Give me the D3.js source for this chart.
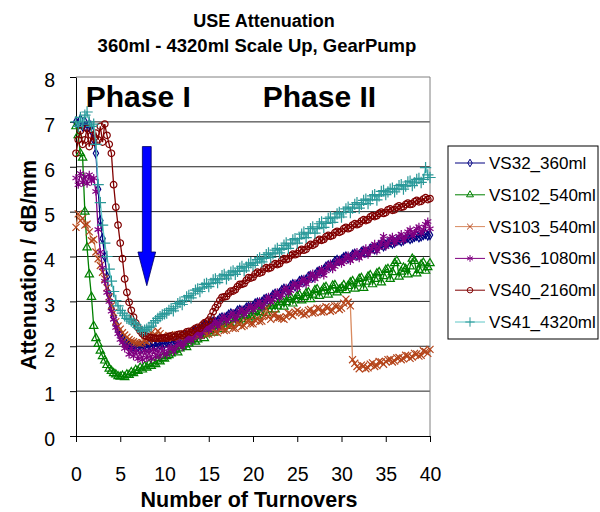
<!DOCTYPE html>
<html>
<head>
<meta charset="utf-8">
<script src="https://cdn.jsdelivr.net/npm/d3@7"></script>
<style>
  body { margin: 0; background: #fff; }
  text { font-family: Arial, "Liberation Sans", sans-serif; }
</style>
</head>
<body>
<svg id="chart" width="600" height="512"></svg>
<script>
// turnovers (x) shared by all series, every quarter turnover
var turnovers = [0,0.25,0.5,0.75,1,1.25,1.5,1.75,2,2.25,2.5,2.75,3,3.25,3.5,3.75,4,4.25,4.5,4.75,
  5,5.25,5.5,5.75,6,6.25,6.5,6.75,7,7.25,7.5,7.75,8,8.25,8.5,8.75,9,9.25,9.5,9.75,
  10,10.25,10.5,10.75,11,11.25,11.5,11.75,12,12.25,12.5,12.75,13,13.25,13.5,13.75,14,14.25,14.5,14.75,
  15,15.25,15.5,15.75,16,16.25,16.5,16.75,17,17.25,17.5,17.75,18,18.25,18.5,18.75,19,19.25,19.5,19.75,
  20,20.25,20.5,20.75,21,21.25,21.5,21.75,22,22.25,22.5,22.75,23,23.25,23.5,23.75,24,24.25,24.5,24.75,
  25,25.25,25.5,25.75,26,26.25,26.5,26.75,27,27.25,27.5,27.75,28,28.25,28.5,28.75,29,29.25,29.5,29.75,
  30,30.25,30.5,30.75,31,31.25,31.5,31.75,32,32.25,32.5,32.75,33,33.25,33.5,33.75,34,34.25,34.5,34.75,
  35,35.25,35.5,35.75,36,36.25,36.5,36.75,37,37.25,37.5,37.75,38,38.25,38.5,38.75,39,39.25,39.5,39.75,40];

// attenuation, dB/mm
var vs32 = [7.0,6.95,7.05,6.9,7.0,6.85,6.95,6.8,6.6,6.3,5.5,4.8,4.4,4.0,3.55,3.15,2.85,2.65,2.5,2.35,2.25,2.18,2.1,2.05,2.02,1.97,2.0,1.95,1.99,2.02,1.96,2.01,1.97,2.03,1.99,2.04,2.0,2.06,2.02,2.07,2.05,
  2.09,2.1,2.07,2.08,2.13,2.15,2.12,2.16,2.22,2.24,2.21,2.26,2.32,2.35,2.32,2.36,2.43,2.47,2.44,2.48,
  2.53,2.55,2.53,2.56,2.62,2.64,2.61,2.65,2.7,2.73,2.69,2.72,2.79,2.81,2.77,2.8,2.86,2.88,2.85,2.88,
  2.95,2.97,2.94,2.98,3.04,3.06,3.03,3.07,3.14,3.17,3.13,3.18,3.25,3.28,3.23,3.27,3.35,3.38,3.34,3.38,
  3.45,3.47,3.44,3.48,3.55,3.57,3.54,3.58,3.65,3.67,3.66,3.7,3.77,3.8,3.78,3.82,3.89,3.92,3.9,3.93,
  3.98,4.0,3.96,3.98,4.04,4.06,4.02,4.04,4.1,4.12,4.09,4.11,4.17,4.19,4.16,4.18,4.25,4.27,4.23,4.26,
  4.3,4.32,4.29,4.31,4.35,4.37,4.34,4.36,4.4,4.42,4.39,4.41,4.44,4.46,4.43,4.45,4.48,4.5,4.47,4.48];

var vs102 = [6.9,6.7,6.3,6.2,5.0,4.2,3.6,3.1,2.45,2.18,2.05,1.9,1.78,1.68,1.58,1.5,1.45,1.4,1.37,1.33,1.32,1.34,1.31,1.37,1.36,1.42,1.4,1.47,1.45,1.52,1.48,1.55,1.52,1.6,1.56,1.63,1.6,1.68,1.66,1.74,1.72,
  1.78,1.8,1.84,1.9,1.92,1.86,1.95,2.0,2.04,1.98,2.06,2.12,2.16,2.1,2.15,2.24,2.26,2.18,2.28,2.34,
  2.36,2.3,2.38,2.44,2.46,2.38,2.45,2.5,2.54,2.45,2.52,2.6,2.62,2.52,2.6,2.68,2.7,2.6,2.66,2.75,
  2.78,2.68,2.76,2.86,2.88,2.74,2.82,2.9,2.93,2.82,2.9,2.98,3.02,2.88,2.98,3.08,3.1,2.95,3.04,3.12,
  3.14,3.02,3.1,3.18,3.2,3.05,3.15,3.25,3.27,3.12,3.22,3.3,3.32,3.15,3.25,3.35,3.36,3.2,3.26,3.3,
  3.36,3.25,3.34,3.42,3.45,3.28,3.4,3.5,3.52,3.3,3.44,3.55,3.58,3.38,3.5,3.62,3.65,3.42,3.56,3.7,
  3.72,3.5,3.65,3.85,3.9,3.55,3.66,3.75,3.72,3.6,3.78,3.95,3.9,3.62,3.7,3.82,3.86,3.68,3.76,3.85];

var vs103 = [4.65,4.95,4.8,4.85,4.7,4.72,4.55,4.35,4.38,4.1,3.95,3.8,3.65,3.5,3.3,3.1,2.9,2.75,2.55,2.45,2.38,2.3,2.25,2.2,2.15,2.12,2.1,2.08,2.07,2.06,2.08,2.12,2.1,2.14,2.3,2.2,2.25,2.34,2.28,2.22,2.2,
  2.18,2.24,2.22,2.18,2.26,2.25,2.2,2.2,2.28,2.26,2.22,2.21,2.3,2.28,2.24,2.24,2.33,2.32,2.26,2.27,
  2.34,2.38,2.32,2.3,2.4,2.42,2.35,2.36,2.45,2.47,2.4,2.4,2.52,2.5,2.44,2.46,2.55,2.56,2.5,2.5,
  2.58,2.62,2.55,2.56,2.68,2.84,2.66,2.6,2.7,2.72,2.63,2.64,2.62,2.6,2.66,2.74,2.72,2.68,2.76,2.8,
  2.76,2.74,2.7,2.72,2.8,2.82,2.74,2.75,2.85,2.84,2.76,2.77,2.88,2.86,2.78,2.8,2.9,2.9,2.82,2.85,
  2.96,3.05,2.98,2.9,1.7,1.62,1.55,1.5,1.58,1.56,1.5,1.52,1.6,1.63,1.55,1.57,1.66,1.65,1.6,1.66,
  1.7,1.71,1.65,1.67,1.74,1.75,1.7,1.72,1.8,1.79,1.73,1.76,1.84,1.83,1.78,1.8,1.9,1.88,1.84,1.93];

var vs36 = [5.75,5.6,5.85,5.65,5.78,5.62,5.82,5.68,5.75,5.45,4.6,4.1,3.75,3.45,3.2,3.0,2.78,2.6,2.42,2.28,2.15,2.08,1.95,2.0,1.82,1.95,1.78,1.9,1.72,1.86,1.7,1.9,1.74,1.88,1.72,1.92,1.76,1.9,1.78,1.95,1.85,
  1.82,1.95,1.98,1.88,1.96,2.05,2.08,1.98,2.06,2.15,2.2,2.12,2.18,2.28,2.32,2.22,2.3,2.4,2.44,2.36,
  2.42,2.5,2.56,2.44,2.52,2.62,2.66,2.55,2.6,2.7,2.74,2.6,2.68,2.78,2.82,2.7,2.76,2.86,2.9,2.8,
  2.86,2.95,3.0,2.86,2.94,3.05,3.1,2.98,3.04,3.16,3.2,3.08,3.14,3.26,3.3,3.18,3.24,3.36,3.4,3.3,
  3.36,3.46,3.5,3.38,3.46,3.58,3.62,3.5,3.56,3.66,3.72,3.58,3.68,3.8,3.84,3.72,3.78,3.88,3.92,3.84,
  3.88,3.98,4.02,3.9,3.96,4.06,4.1,3.96,4.02,4.12,4.18,4.04,4.12,4.22,4.28,4.12,4.2,4.32,4.45,4.22,
  4.3,4.4,4.44,4.3,4.36,4.45,4.5,4.36,4.44,4.55,4.6,4.46,4.52,4.62,4.66,4.52,4.6,4.72,4.78,4.62];

var vs40 = [6.3,6.6,6.8,6.5,6.6,6.85,6.45,6.7,6.55,6.75,6.6,6.9,6.55,6.95,6.7,6.5,6.3,5.6,5.1,4.7,4.3,3.95,3.5,3.2,2.98,2.8,2.65,2.52,2.42,2.34,2.28,2.24,2.22,2.2,2.19,2.18,2.18,2.17,2.18,2.18,2.19,
  2.18,2.22,2.23,2.2,2.22,2.26,2.27,2.24,2.28,2.32,2.33,2.31,2.36,2.4,2.42,2.4,2.47,2.52,2.54,2.58,
  2.66,2.77,2.86,2.93,3.02,3.09,3.1,3.11,3.18,3.23,3.23,3.26,3.33,3.38,3.38,3.4,3.47,3.53,3.52,3.54,
  3.61,3.65,3.63,3.65,3.72,3.75,3.73,3.75,3.81,3.84,3.82,3.84,3.91,3.95,3.93,3.95,4.02,4.05,4.04,4.06,
  4.13,4.16,4.14,4.16,4.23,4.27,4.25,4.28,4.35,4.38,4.36,4.38,4.44,4.47,4.45,4.47,4.53,4.56,4.54,4.56,
  4.62,4.65,4.62,4.64,4.7,4.73,4.71,4.73,4.79,4.82,4.8,4.82,4.88,4.91,4.89,4.91,4.96,4.99,4.96,4.98,
  5.04,5.06,5.03,5.04,5.1,5.13,5.1,5.11,5.16,5.19,5.16,5.17,5.22,5.25,5.22,5.23,5.28,5.31,5.27,5.29];

var vs41 = [7.0,6.9,7.1,6.95,7.15,7.22,7.0,6.9,6.95,6.5,5.6,5.2,4.7,4.3,4.0,3.72,3.45,3.22,3.02,2.9,2.8,2.74,2.68,2.62,2.6,2.56,2.52,2.48,2.42,2.38,2.33,2.36,2.38,2.42,2.45,2.52,2.57,2.62,2.66,2.7,2.72,
  2.74,2.8,2.84,2.79,2.88,2.95,2.98,2.93,3.02,3.1,3.13,3.08,3.17,3.25,3.28,3.22,3.3,3.38,3.4,3.33,
  3.4,3.48,3.5,3.42,3.5,3.57,3.6,3.5,3.58,3.65,3.68,3.6,3.67,3.74,3.78,3.68,3.76,3.83,3.86,3.8,
  3.86,3.93,3.97,3.88,3.96,4.04,4.08,3.98,4.06,4.14,4.18,4.08,4.16,4.25,4.3,4.18,4.28,4.37,4.4,4.3,
  4.4,4.5,4.54,4.42,4.52,4.62,4.66,4.52,4.62,4.73,4.77,4.65,4.74,4.85,4.88,4.76,4.86,4.95,4.98,4.88,
  4.98,5.06,5.1,4.98,5.08,5.16,5.2,5.08,5.16,5.25,5.28,5.18,5.26,5.35,5.38,5.26,5.35,5.45,5.47,5.38,
  5.44,5.5,5.52,5.44,5.5,5.58,5.6,5.5,5.57,5.66,5.68,5.58,5.64,5.72,5.74,5.65,5.72,5.98,5.82,5.76];

var seriesNames = ["VS32_360ml", "VS102_540ml", "VS103_540ml", "VS36_1080ml", "VS40_2160ml", "VS41_4320ml"];
var seriesValues = [vs32, vs102, vs103, vs36, vs40, vs41];

var xTicks = [0, 5, 10, 15, 20, 25, 30, 35, 40];
var yTicks = [0, 1, 2, 3, 4, 5, 6, 7, 8];

// arrow: turnover position, top, head start, tip (dB/mm)
var arrowAt = 8, arrowTop = 6.45, arrowHead = 4.1, arrowTip = 3.35;
var phaseLabels = [{ text: "Phase I", t: 1.1, v: 7.33 }, { text: "Phase II", t: 21.1, v: 7.33 }];

// styles
var lineColors = ["#000080", "#008000", "#D98A5F", "#800080", "#800000", "#5EC6C6"];
var markColors = ["#000080", "#008000", "#B4441A", "#800080", "#800000", "#2A9898"];
var markShapes = [d3.symbolDiamond, d3.symbolTriangle, d3.symbolX, d3.symbolAsterisk, d3.symbolCircle, d3.symbolPlus];
var markSizes = [24, 30, 34, 46, 34, 44];

var svg = d3.select("#chart");
var x = d3.scaleLinear().domain([0, 40]).range([76, 430]);
var y = d3.scaleLinear().domain([0, 8]).range([436, 77]);

// title
svg.append("text").attr("x", 264).attr("y", 27).attr("text-anchor", "middle")
  .attr("font-size", 18).attr("font-weight", "bold").text("USE Attenuation");
svg.append("text").attr("x", 257).attr("y", 52).attr("text-anchor", "middle")
  .attr("font-size", 18.5).attr("font-weight", "bold").text("360ml - 4320ml Scale Up, GearPump");

// gridlines
svg.append("g").selectAll("line").data(yTicks.slice(1)).enter().append("line")
  .attr("x1", x(0)).attr("x2", x(40))
  .attr("y1", function(d) { return y(d); }).attr("y2", function(d) { return y(d); })
  .attr("stroke", function(d) { return d == 8 ? "#808080" : "#222"; }).attr("stroke-width", 1);
svg.append("line").attr("x1", x(40)).attr("x2", x(40)).attr("y1", y(8)).attr("y2", y(0))
  .attr("stroke", "#808080");

// axes
var xAxis = svg.append("g").attr("transform", "translate(0," + y(0) + ")")
  .call(d3.axisBottom(x).tickValues(xTicks).tickSize(6).tickPadding(25).tickSizeOuter(0));
var yAxis = svg.append("g").attr("transform", "translate(" + x(0) + ",0)")
  .call(d3.axisLeft(y).tickValues(yTicks).tickSize(6).tickPadding(15).tickSizeOuter(0));
[xAxis, yAxis].forEach(function(a) {
  a.selectAll("text").attr("font-size", 19.5).attr("font-family", "Arial, 'Liberation Sans', sans-serif").attr("fill", "#000");
  a.selectAll("line, path").attr("stroke", "#000");
});
yAxis.selectAll("text").attr("dy", "0.5em");

svg.append("text").attr("x", 249).attr("y", 507).attr("text-anchor", "middle")
  .attr("font-size", 21.5).attr("font-weight", "bold").text("Number of Turnovers");
svg.append("text").attr("transform", "translate(36,265) rotate(-90)").attr("text-anchor", "middle")
  .attr("font-size", 21.5).attr("font-weight", "bold").text("Attenuation / dB/mm");

// series, drawn in legend order so VS41 ends up on top
var line = d3.line().x(function(d) { return x(d[0]); }).y(function(d) { return y(d[1]); });
seriesValues.forEach(function(vals, i) {
  var pts = turnovers.map(function(t, j) { return [t, vals[j]]; });
  var g = svg.append("g");
  g.append("path").datum(pts).attr("d", line).attr("fill", "none")
    .attr("stroke", lineColors[i]).attr("stroke-width", 1.3);
  g.selectAll("path.m").data(pts).enter().append("path").attr("class", "m")
    .attr("transform", function(d) { return "translate(" + x(d[0]) + "," + y(d[1]) + ")"; })
    .attr("d", d3.symbol().type(markShapes[i]).size(markSizes[i]))
    .attr("fill", "none").attr("stroke", markColors[i]).attr("stroke-width", 1.2);
});

// phase labels
svg.selectAll("text.phase").data(phaseLabels).enter().append("text").attr("class", "phase")
  .attr("x", function(d) { return x(d.t); }).attr("y", function(d) { return y(d.v); })
  .attr("font-size", 30).attr("font-weight", "bold").text(function(d) { return d.text; });

// blue arrow
var arrowPts = [[arrowAt - 0.5, arrowTop], [arrowAt + 0.5, arrowTop], [arrowAt + 0.5, arrowHead], [arrowAt + 1.0, arrowHead],
  [arrowAt, arrowTip], [arrowAt - 1.0, arrowHead], [arrowAt - 0.5, arrowHead]];
svg.append("path").datum(arrowPts).attr("d", line.curve(d3.curveLinearClosed))
  .attr("fill", "#0000FF").attr("stroke", "#000060").attr("stroke-width", 0.8);

// legend
var lg = svg.append("g");
lg.append("rect").attr("x", 448).attr("y", 146).attr("width", 150).attr("height", 193)
  .attr("fill", "#fff").attr("stroke", "#000");
seriesNames.forEach(function(name, i) {
  var cy = 163 + i * 31.8;
  lg.append("line").attr("x1", 455).attr("x2", 485).attr("y1", cy).attr("y2", cy)
    .attr("stroke", lineColors[i]);
  lg.append("path").attr("transform", "translate(470," + cy + ")")
    .attr("d", d3.symbol().type(markShapes[i]).size(markSizes[i] * 0.7))
    .attr("fill", "none").attr("stroke", markColors[i]);
  lg.append("text").attr("x", 489).attr("y", cy + 6).attr("font-size", 17).text(name);
});
</script>
</body>
</html>
